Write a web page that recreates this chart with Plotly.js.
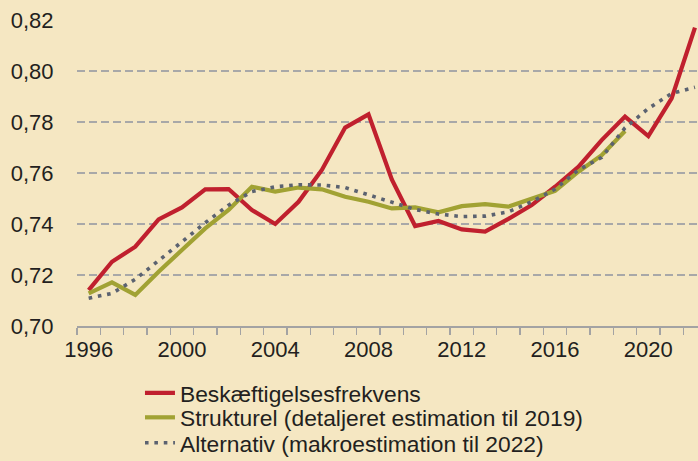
<!DOCTYPE html>
<html>
<head>
<meta charset="utf-8">
<script src="https://cdn.plot.ly/plotly-3.0.1.min.js"></script>
<style>
html,body{margin:0;padding:0;background:#f5e7c2;}
#chart{width:698px;height:461px;}
</style>
</head>
<body>
<div id="chart"></div>
<script>
const years = [1996,1997,1998,1999,2000,2001,2002,2003,2004,2005,2006,2007,2008,2009,2010,2011,2012,2013,2014,2015,2016,2017,2018,2019,2020,2021,2022];
const yearsStructural = [1996,1997,1998,1999,2000,2001,2002,2003,2004,2005,2006,2007,2008,2009,2010,2011,2012,2013,2014,2015,2016,2017,2018,2019];

const employmentRate = [0.7141,0.7252,0.7311,0.7418,0.7465,0.7536,0.7537,0.7455,0.7400,0.7487,0.7612,0.7778,0.7830,0.7575,0.7392,0.7412,0.7379,0.7370,0.7420,0.7474,0.7546,0.7624,0.7729,0.7821,0.7745,0.7893,0.8170];
const structural = [0.7128,0.7171,0.7122,0.7213,0.7298,0.7383,0.7455,0.7546,0.7527,0.7543,0.7536,0.7507,0.7487,0.7461,0.7465,0.7446,0.7470,0.7478,0.7468,0.7497,0.7530,0.7605,0.7670,0.7765];
const alternative = [0.7109,0.7128,0.7183,0.7255,0.7330,0.7405,0.7474,0.7527,0.7546,0.7554,0.7553,0.7543,0.7514,0.7484,0.7457,0.7439,0.7429,0.7431,0.7448,0.7487,0.7537,0.7612,0.7661,0.7777,0.7853,0.7912,0.7936];

const seriesNames = ["Beskæftigelsesfrekvens","Strukturel (detaljeret estimation til 2019)","Alternativ (makroestimation til 2022)"];
const xTickVals = [1996,2000,2004,2008,2012,2016,2020];
const xTickText = ["1996","2000","2004","2008","2012","2016","2020"];
const yTickVals = [0.70,0.72,0.74,0.76,0.78,0.80,0.82];

const bg = '#f5e7c2';
const traces = [
  {x: years, y: employmentRate, name: seriesNames[0], type:'scatter', mode:'lines', legend:'legend',
   line:{color:'#c0202e', width:4.2}},
  {x: yearsStructural, y: structural, name: seriesNames[1], type:'scatter', mode:'lines', legend:'legend2',
   line:{color:'#a1a233', width:4.2}},
  {x: years, y: alternative, name: seriesNames[2], type:'scatter', mode:'lines', legend:'legend3',
   line:{color:'#5b6270', width:3.6, dash:'3.6px,5.8px'}}
];

function legendAt(yCenterPx) {
  return {x:0.1014, xanchor:'left', xref:'paper', yref:'container', y: 1 - yCenterPx/461, yanchor:'middle',
          bgcolor:'rgba(0,0,0,0)', font:{size:22.8, color:'#231f20'}, itemwidth:30};
}

const layout = {
  width: 698, height: 461,
  paper_bgcolor: bg, plot_bgcolor: bg,
  separators: ', ',
  font: {family:'"Liberation Sans", Arial, sans-serif', size:22, color:'#231f20'},
  margin: {l:77, r:0, t:20, b:135, pad:0},
  showlegend: true,
  legend: legendAt(393),
  legend2: legendAt(417.5),
  legend3: legendAt(443),
  xaxis: {range:[1995.5, 2022.13], tickvals:xTickVals, ticktext:xTickText,
          ticks:'outside', ticklen:3, tickcolor:'rgba(0,0,0,0)',
          showgrid:false, zeroline:false, showline:true, linecolor:'#a3a3a3', linewidth:1.5,
          minor:{dtick:1, tick0:1995.5, ticks:'outside', ticklen:7, tickcolor:'#a3a3a3', tickwidth:1.3, showgrid:false},
          tickfont:{size:22}},
  yaxis: {range:[0.70, 0.82], tickvals:yTickVals, tickformat:'.2f',
          ticks:'outside', ticklen:18, tickcolor:'rgba(0,0,0,0)',
          showgrid:true, gridcolor:'#a8a8a8', gridwidth:1.3, griddash:'8px,4px',
          zeroline:false, showline:false, tickfont:{size:22}}
};

Plotly.newPlot('chart', traces, layout, {displayModeBar:false, staticPlot:true});
</script>
</body>
</html>
